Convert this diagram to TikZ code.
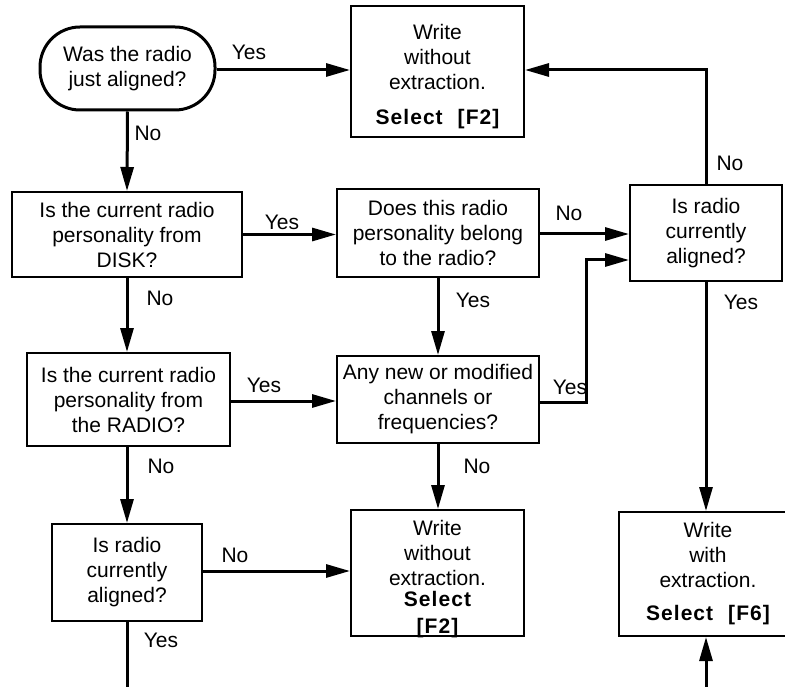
\documentclass[tikz,border=0pt]{standalone}
\usepackage{fontspec}
\setmainfont{Liberation Sans}
\usetikzlibrary{arrows.meta}
\newcommand{\selb}[1]{{\bfseries\addfontfeatures{LetterSpace=5}#1}}
\begin{document}
\begin{tikzpicture}[x=1pt,y=-1pt,
  every node/.style={font=\fontsize{21}{25}\selectfont},
  box/.style={draw,line width=2pt,inner sep=0pt,align=center},
  txt/.style={inner sep=0pt,align=center},
  term/.style={draw,line width=3pt,rounded corners=40pt,inner sep=0pt,align=center},
  conn/.style={line width=3pt,-{Triangle[length=24pt,width=13pt]}},
  plain/.style={line width=3pt},
  lbl/.style={inner sep=0pt}]
\useasboundingbox (0,0) rectangle (785,687);
\clip (0,0) rectangle (785,687);
% nodes
\node[term,minimum width=175pt,minimum height=83pt] (start) at (127.5,68.5) {Was the radio\\just aligned?};
\node[box,minimum width=173pt,minimum height=131pt] (top) at (437.5,71.5) {};
\node[txt] (topT) at (437.5,77) {Write\\without\\extraction.\\[10pt]\selb{Select}\hspace{15pt}\selb{[F2]}};
\node[box,minimum width=230pt,minimum height=85pt] (disk) at (127,234.5) {Is the current radio\\personality from\\DISK?};
\node[box,minimum width=202pt,minimum height=88pt] (belong) at (438,233) {Does this radio\\personality belong\\to the radio?};
\node[box,minimum width=152pt,minimum height=96pt] (rightq) at (706,233) {Is radio\\currently\\aligned?};
\node[box,minimum width=203pt,minimum height=93pt] (radioq) at (128.5,399.5) {Is the current radio\\personality from\\the RADIO?};
\node[box,minimum width=202pt,minimum height=87pt] (anynew) at (438,399.5) {Any new or modified\\channels or\\frequencies?};
\node[box,minimum width=150pt,minimum height=97pt] (alignedL) at (127,572.5) {Is radio\\currently\\aligned?};
\node[box,minimum width=173pt,minimum height=126pt] (botF2) at (437.5,573) {};
\node[txt] (botF2T) at (437.5,579) {Write\\without\\extraction.\\[-4pt]\selb{Select}\\[2pt]\selb{[F2]}};
\node[box,minimum width=178pt,minimum height=124pt] (botF6) at (708,574) {Write\\with\\extraction.\\[8pt]\selb{Select}\hspace{15pt}\selb{[F6]}};
% free ends
\coordinate (endL) at (127,690);
\coordinate (endR) at (706,690);
\coordinate (loopTop) at (706,70);
\coordinate (bendA) at (586,402);
\coordinate (bendB) at (586,260);
% connectors
\draw[conn] (start.east |- 0,70) -- (top.west |- 0,70);
\draw[conn] (start.south) -- (disk.north);
\draw[conn] (disk.east) -- (belong.west |- disk.east);
\draw[conn] (disk.south) -- (radioq.north -| disk.south);
\draw[conn] (belong.east |- 0,234) -- (rightq.west |- 0,234);
\draw[conn] (belong.south) -- (anynew.north);
\draw[conn] (rightq.north) -- (loopTop) -- (top.east |- loopTop);
\draw[conn] (rightq.south) -- (botF6.north -| rightq.south);
\draw[conn] (radioq.east |- 0,401) -- (anynew.west |- 0,401);
\draw[conn] (anynew.east |- bendA) -- (bendA) -- (bendB) -- (rightq.west |- bendB);
\draw[conn] (radioq.south -| alignedL.north) -- (alignedL.north);
\draw[conn] (alignedL.east |- 0,571) -- (botF2.west |- 0,571);
\draw[plain] (alignedL.south) -- (endL);
\draw[conn] (anynew.south) -- (botF2.north -| anynew.south);
\draw[conn] (endR) -- (botF6.south -| endR);
% labels
\node[lbl] (l1) at (249,52) {Yes};
\node[lbl] (l2) at (148,133) {No};
\node[lbl] (l3) at (282,222) {Yes};
\node[lbl] (l4) at (160,298) {No};
\node[lbl] (l5) at (569,213) {No};
\node[lbl] (l6) at (473,300) {Yes};
\node[lbl] (l7) at (730,163) {No};
\node[lbl] (l8) at (741,302) {Yes};
\node[lbl] (l9) at (264,385) {Yes};
\node[lbl] (l10) at (570,387) {Yes};
\node[lbl] (l11) at (161,466) {No};
\node[lbl] (l12) at (235,555) {No};
\node[lbl] (l13) at (161,640) {Yes};
\node[lbl] (l14) at (477,466) {No};
\end{tikzpicture}
\end{document}
